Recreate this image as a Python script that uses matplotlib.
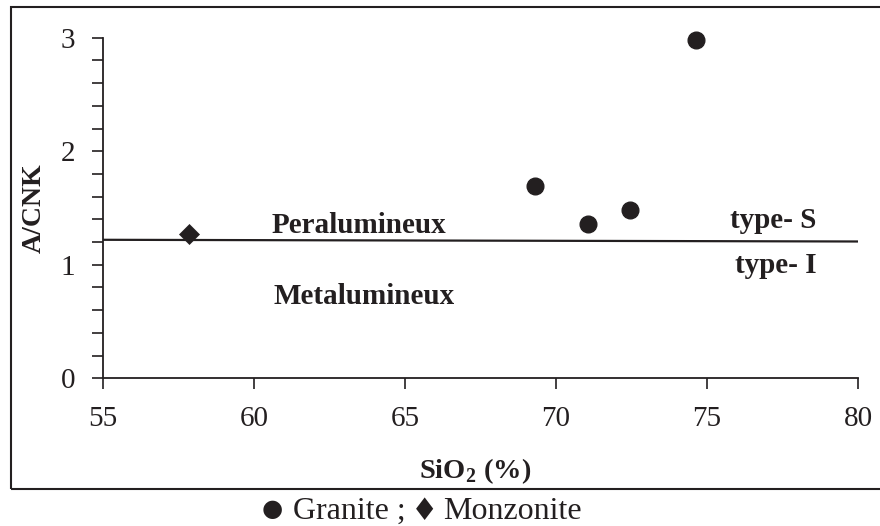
import matplotlib
matplotlib.use("Agg")
import matplotlib.pyplot as plt
from matplotlib.ticker import MultipleLocator
from matplotlib.patches import Rectangle

plt.rcParams['font.family'] = ['Liberation Serif', 'DejaVu Serif']
plt.rcParams['mathtext.fontset'] = 'custom'
plt.rcParams['mathtext.rm'] = 'Liberation Serif'
plt.rcParams['mathtext.bf'] = 'Liberation Serif:bold'

# Data
granite_sio2 = [69.3, 71.05, 72.45, 74.65]
granite_acnk = [1.69, 1.36, 1.48, 2.98]
monzonite_sio2 = [57.85]
monzonite_acnk = [1.27]
boundary_x = [55, 80]
boundary_y = [1.22, 1.205]
xticks = [55, 60, 65, 70, 75, 80]
yticks = [0, 1, 2, 3]

W, H = 880, 526
fig = plt.figure(figsize=(W / 100, H / 100), dpi=100)
x0, x1 = 102.7, 858
y0, y1 = 378.3, 37.7
ax = fig.add_axes([x0 / W, 1 - y0 / H, (x1 - x0) / W, (y0 - y1) / H])

ink = '#231f20'
ax.plot(boundary_x, boundary_y, color=ink, lw=1.6, solid_capstyle='butt')
ax.plot(granite_sio2, granite_acnk, 'o', color=ink, ms=12, mec=ink, ls='none', clip_on=False)
ax.plot(monzonite_sio2, monzonite_acnk, 'D', color=ink, ms=10.5, mec=ink, mew=0.5, ls='none',
        clip_on=False)

ax.set_xlim(55, 80)
ax.set_ylim(0, 3)
ax.set_xticks(xticks)
ax.set_yticks(yticks)
ax.yaxis.set_minor_locator(MultipleLocator(0.2))
for s in ['top', 'right']:
    ax.spines[s].set_visible(False)
for s in ['left', 'bottom']:
    ax.spines[s].set_color(ink)
    ax.spines[s].set_linewidth(1.3)
ax.tick_params(axis='both', which='both', direction='out', length=8, width=1.2,
               color=ink, labelcolor=ink, labelsize=21, pad=12)
ax.tick_params(axis='x', which='minor', bottom=False)

ax.set_xlabel(r'SiO$_\mathbf{2}$ (%)', fontsize=20.5, fontweight='bold', color=ink)
ax.xaxis.set_label_coords(0.493, -0.228)
ax.set_ylabel('A/CNK', fontsize=20, fontweight='bold', color=ink)
ax.yaxis.set_label_coords(-0.074, 0.5)

bold = dict(fontsize=21, fontweight='bold', color=ink)
ax.text(60.6, 1.283, 'Peralumineux', ha='left', va='baseline', **bold)
ax.text(60.65, 0.652, 'Metalumineux', ha='left', va='baseline', **bold)
ax.text(78.63, 1.327, 'type- S', ha='right', va='baseline', **bold)
ax.text(78.63, 0.925, 'type- I', ha='right', va='baseline', **bold)

# Outer frame
fig.patches.append(Rectangle((11 / W, 1 - 489 / H), (W + 20 - 11) / W, (489 - 7) / H,
                             transform=fig.transFigure, fill=False, ec=ink, lw=1.5,
                             clip_on=False))

# Caption under the frame
base = 1 - 519 / H
wrd = dict(ha='left', va='baseline', fontsize=23, color=ink)
fig.text(262 / W, 1 - 509 / H, '\u25cf', ha='left', va='center', fontsize=17.5, color=ink,
         family=['DejaVu Sans'])
fig.text(293 / W, base, 'Granite ;', **wrd)
fig.text(411 / W, 1 - 512 / H, '\u2666', ha='left', va='center', fontsize=22, color=ink,
         family=['DejaVu Sans'])
fig.text(443 / W, base, 'Monzonite', **wrd)

fig.savefig('out.png', dpi=100)
